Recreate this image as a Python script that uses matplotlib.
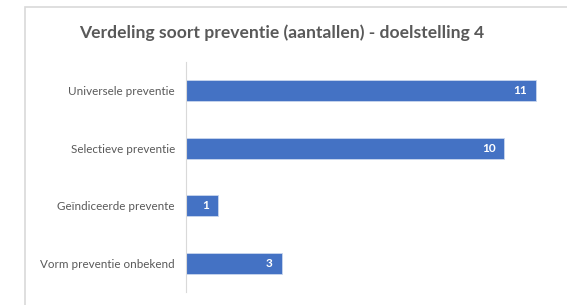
import matplotlib
matplotlib.use("Agg")
import matplotlib.pyplot as plt
from matplotlib.patches import Rectangle

plt.rcParams['font.family'] = ['Lato', 'DejaVu Sans']

categories = ['Universele preventie', 'Selectieve preventie',
              'Geïndiceerde prevente', 'Vorm preventie onbekend']
values = [11, 10, 1, 3]
title = 'Verdeling soort preventie (aantallen) - doelstelling 4'

bar_color = '#4472C4'
text_color = '#595959'

fig = plt.figure(figsize=(5.67, 3.05), dpi=100)
ax = fig.add_axes([186 / 567, 13 / 305, 382 / 567, 230 / 305])

pos = range(len(categories))
bars = ax.barh(pos, values, height=0.36, color=bar_color, edgecolor='#C9D6EE', linewidth=0.6)
ax.set_ylim(3.5, -0.5)
ax.set_xlim(0, 12)
ax.set_yticks(list(pos))
ax.set_yticklabels(categories, fontsize=8.4, color=text_color)
ax.tick_params(axis='y', length=0, pad=8)
ax.set_xticks([])
for s in ['top', 'right', 'bottom']:
    ax.spines[s].set_visible(False)
ax.spines['left'].set_color('#D9D9D9')
ax.spines['left'].set_linewidth(0.8)

for b, v in zip(bars, values):
    ax.text(b.get_width() - 0.28, b.get_y() + b.get_height() / 2, str(v),
            ha='right', va='center', color='white', fontsize=8.5, fontweight='bold')

fig.text(282 / 567, 1 - 33 / 305, title, ha='center', va='center',
         fontsize=12.6, fontweight='bold', color=text_color)

# chart area border
fig.add_artist(Rectangle((25 / 567, -0.1), 1.0, 1 - 7 / 305 + 0.1,
                         transform=fig.transFigure, fill=False,
                         edgecolor='#D9D9D9', linewidth=1.2))

fig.savefig('out.png', dpi=100)
